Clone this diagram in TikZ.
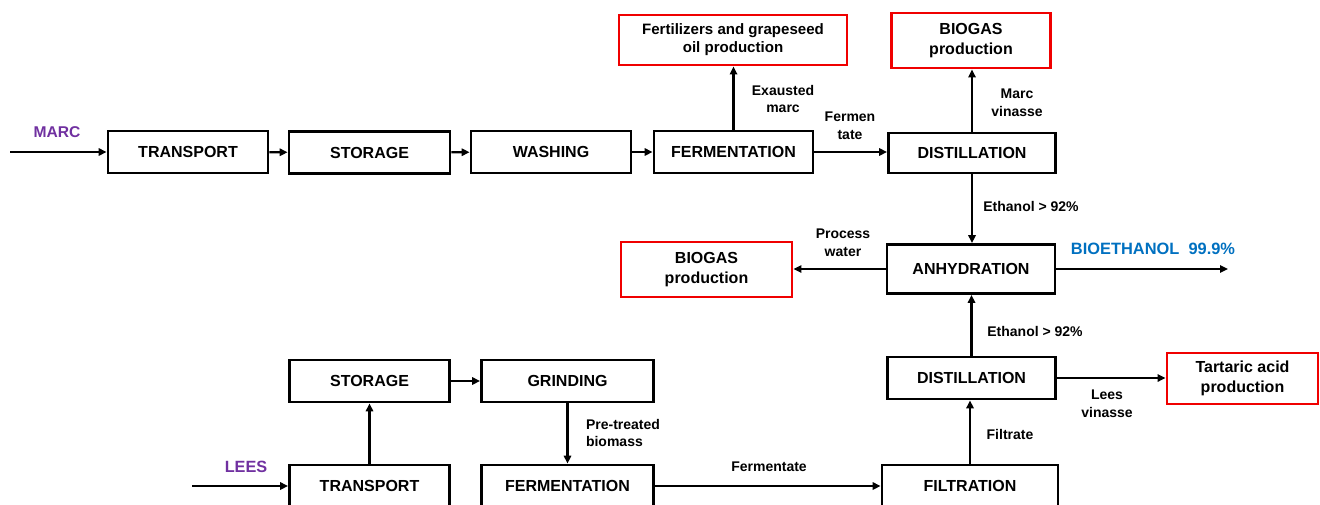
\documentclass[tikz,border=0pt]{standalone}
\usepackage{fontspec}
\setmainfont{Liberation Sans}
\usetikzlibrary{arrows.meta}
\definecolor{marcpurple}{HTML}{7030A0}
\definecolor{bioblue}{HTML}{0070C0}
\definecolor{outred}{HTML}{F00000}
\tikzset{
  proc/.style={draw, line width=2.1pt, inner sep=0pt, align=center,
    font=\fontsize{12}{14.5}\selectfont\bfseries},
  outbox/.style={draw=outred, line width=2.2pt, inner sep=0pt, align=center,
    font=\fontsize{12}{14.5}\selectfont\bfseries},
  lbl/.style={inner sep=0pt, align=center, font=\fontsize{10.5}{13.2}\selectfont\bfseries},
  flow/.style={line width=1.6pt, -{Triangle[length=6pt,width=5.5pt]}},
}
\begin{document}
\begin{tikzpicture}[x=0.75pt, y=-0.75pt]
\useasboundingbox (0,0) rectangle (1320,504);
\clip (0,0) rectangle (1320,504);
% top line (marc)
\node[proc, minimum width=120pt, minimum height=31.5pt] (t1) at (188,152) {TRANSPORT};
\node[proc, minimum width=120.75pt, minimum height=31.5pt] (s1) at (369.5,152.5) {STORAGE};
\node[proc, minimum width=120pt, minimum height=31.5pt] (w1) at (551,152) {WASHING};
\node[proc, minimum width=119.25pt, minimum height=31.5pt] (f1) at (733.5,152) {FERMENTATION};
\node[proc, minimum width=125.25pt, minimum height=30pt] (d1) at (972,153) {DISTILLATION};
\node[outbox, minimum width=171pt, minimum height=37.5pt, font=\fontsize{11.3}{13.5}\selectfont\bfseries] (fert) at (733,40) {Fertilizers and grapeseed\\oil production};
\node[outbox, minimum width=119.25pt, minimum height=41.25pt] (bg1) at (971,40.5) {BIOGAS\\production};
% middle
\node[proc, minimum width=126pt, minimum height=36.75pt] (an) at (971,269) {ANHYDRATION};
\node[outbox, minimum width=128.25pt, minimum height=41.25pt] (bg2) at (706.5,269.5) {BIOGAS\\production};
\node[proc, minimum width=126pt, minimum height=31.5pt] (d2) at (971.5,378) {DISTILLATION};
\node[outbox, minimum width=113.25pt, minimum height=38.25pt] (tar) at (1242.5,378.5) {Tartaric acid\\production};
% bottom line (lees)
\node[proc, minimum width=120pt, minimum height=31.5pt] (s2) at (369.5,381) {STORAGE};
\node[proc, minimum width=129pt, minimum height=31.5pt] (g2) at (567.5,381) {GRINDING};
\node[proc, minimum width=120pt, minimum height=31.5pt] (t2) at (369.5,486) {TRANSPORT};
\node[proc, minimum width=129pt, minimum height=31.5pt] (fe2) at (567.5,486) {FERMENTATION};
\node[proc, minimum width=132pt, minimum height=31.5pt] (fi) at (970,486) {FILTRATION};
% free ends
\coordinate (marcin) at (10,152);
\coordinate (leesin) at (192,486);
\coordinate (bioout) at (1228,269);
% input / output labels
\node[inner sep=0pt, text=marcpurple, font=\fontsize{11.7}{14}\selectfont\bfseries] (marclbl) at (57,132) {MARC};
\node[inner sep=0pt, text=marcpurple, font=\fontsize{12.2}{14}\selectfont\bfseries] (leeslbl) at (246,467) {LEES};
\node[inner sep=0pt, text=bioblue, font=\fontsize{12.3}{14}\selectfont\bfseries] (biolbl) at (1153,249) {BIOETHANOL\ \ 99.9\%};
% stream labels
\node[lbl] (l1) at (783,99) {Exausted\\marc};
\node[lbl] (l2) at (850,126) {Fermen\\tate};
\node[lbl] (l3) at (1017,103) {Marc\\vinasse};
\node[lbl] (l4) at (1031,206) {Ethanol > 92\%};
\node[lbl] (l5) at (843,243) {Process\\water};
\node[lbl] (l6) at (1035,331) {Ethanol > 92\%};
\node[lbl] (l7) at (1107,404) {Lees\\vinasse};
\node[lbl] (l8) at (1010,434) {Filtrate};
\node[lbl] (l9) at (769,467) {Fermentate};
\node[lbl, align=left] (l10) at (623,433) {Pre-treated\\biomass};
% connectors
\draw[flow] (marcin) -- (t1.west);
\draw[flow] (t1) -- (s1);
\draw[flow] (s1) -- (w1);
\draw[flow] (w1) -- (f1);
\draw[flow] (f1.east) -- (d1.west |- f1.east);
\draw[flow] (f1.north) -- (f1.north |- fert.south);
\draw[flow] (d1.north) -- (d1.north |- bg1.south);
\draw[flow] (d1.south) -- (d1.south |- an.north);
\draw[flow] (an.west) -- (bg2.east |- an.west);
\draw[flow] (an.east) -- (bioout);
\draw[flow] (d2.north) -- (d2.north |- an.south);
\draw[flow] (d2.east) -- (tar.west |- d2.east);
\draw[flow] (fi.north) -- (fi.north |- d2.south);
\draw[flow] (fe2.east) -- (fi.west);
\draw[flow] (g2.south) -- (fe2.north);
\draw[flow] (t2.north) -- (s2.south);
\draw[flow] (s2) -- (g2);
\draw[flow] (leesin) -- (t2.west);
\end{tikzpicture}
\end{document}
